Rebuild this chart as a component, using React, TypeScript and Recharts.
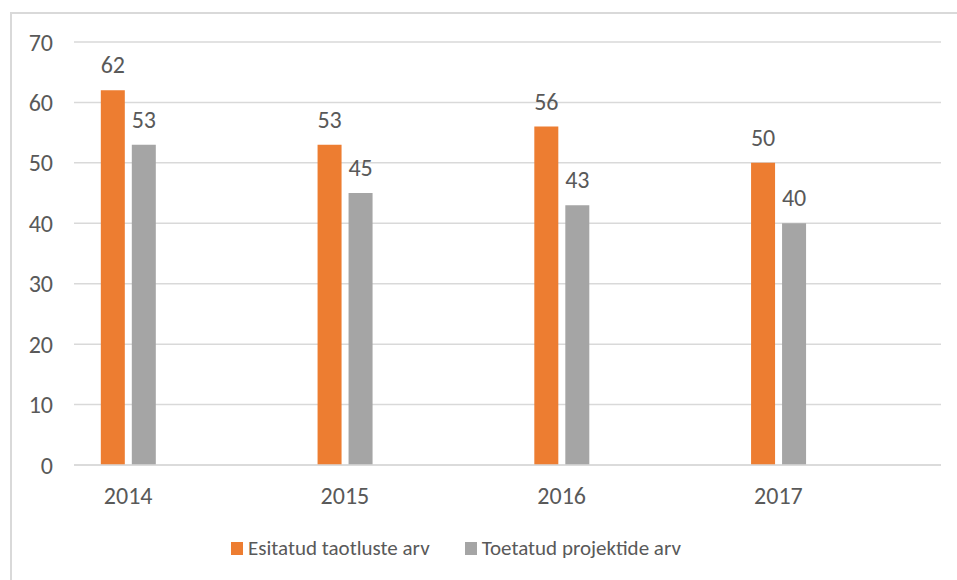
import { Bar, BarChart, CartesianGrid, LabelList, Legend, XAxis, YAxis } from "recharts"

const years = [2014, 2015, 2016, 2017]
const submitted = [62, 53, 56, 50]
const supported = [53, 45, 43, 40]
const yTicks = [0, 10, 20, 30, 40, 50, 60, 70]

const seriesNames = ["Esitatud taotluste arv", "Toetatud projektide arv"]
const colors = ["#ED7D31", "#A5A5A5"]

const data = years.map((year, i) => ({
  year,
  submitted: submitted[i],
  supported: supported[i],
}))

const font = "Carlito, Calibri, 'Open Sans', sans-serif"
const textColor = "#595959"

function LegendContent() {
  return (
    <div style={{ display: "flex", alignItems: "center", fontFamily: font, fontSize: 21, color: textColor }}>
      {seriesNames.map((name, i) => (
        <div key={name} style={{ display: "flex", alignItems: "center", marginRight: i === 0 ? 35 : 0 }}>
          <span style={{ display: "inline-block", width: 12, height: 13, background: colors[i], marginRight: 5 }} />
          <span>{name}</span>
        </div>
      ))}
    </div>
  )
}

export default function App() {
  return (
    <div style={{ position: "absolute", left: 0, top: 0, width: 957, height: 580, background: "#fff" }}>
      <div
        style={{
          position: "absolute",
          left: 10,
          top: 12,
          right: 0,
          bottom: 0,
          borderTop: "2px solid #d9d9d9",
          borderLeft: "2px solid #d9d9d9",
        }}
      />
      <BarChart
        width={957}
        height={580}
        data={data}
        margin={{ top: 42, right: 16, bottom: 55, left: 0 }}
        barGap={7}
        style={{ position: "absolute", left: 0, top: 0 }}
      >
        <CartesianGrid vertical={false} stroke="#d9d9d9" strokeWidth={1.5} />
        <XAxis
          dataKey="year"
          type="number"
          domain={[2013.75, 2017.75]}
          allowDataOverflow
          ticks={years}
          height={30}
          tickSize={0}
          tickMargin={22}
          axisLine={{ stroke: "#d9d9d9", strokeWidth: 1.5 }}
          tickLine={false}
          tick={{ fill: textColor, fontSize: 24, fontFamily: font }}
        />
        <YAxis
          domain={[0, 70]}
          ticks={yTicks}
          width={74}
          tickSize={0}
          tickMargin={21}
          axisLine={false}
          tickLine={false}
          tick={{ fill: textColor, fontSize: 24, fontFamily: font }}
        />
        <Legend
          content={<LegendContent />}
          wrapperStyle={{ left: 231, width: 520, bottom: 15, height: 30 }}
        />
        <Bar dataKey="submitted" name={seriesNames[0]} fill={colors[0]} barSize={24} isAnimationActive={false}>
          <LabelList dataKey="submitted" position="top" offset={17} fill={textColor} fontSize={24} fontFamily={font} />
        </Bar>
        <Bar dataKey="supported" name={seriesNames[1]} fill={colors[1]} barSize={24} isAnimationActive={false}>
          <LabelList dataKey="supported" position="top" offset={17} fill={textColor} fontSize={24} fontFamily={font} />
        </Bar>
      </BarChart>
    </div>
  )
}
